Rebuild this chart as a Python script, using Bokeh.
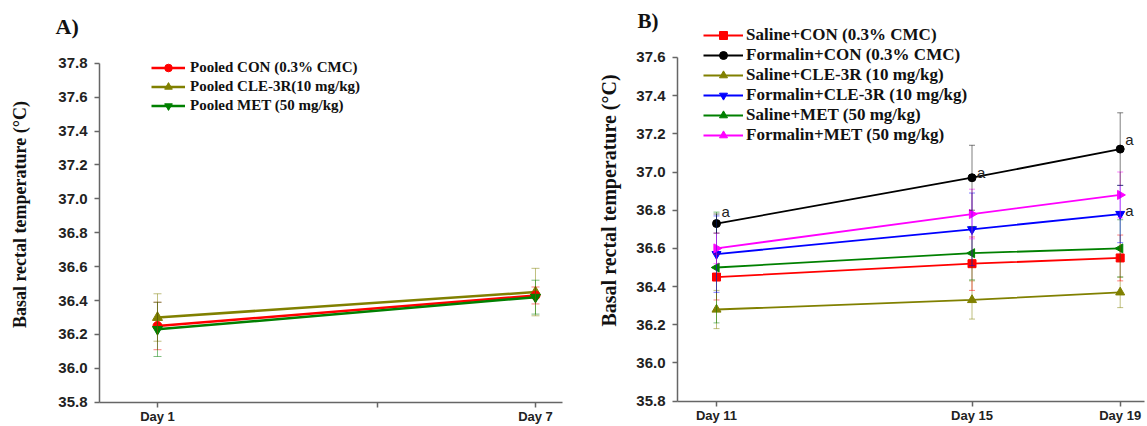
import math
from bokeh.plotting import figure
from bokeh.layouts import row
from bokeh.models import ColumnDataSource, Whisker, TeeHead, FixedTicker, Range1d
from bokeh.core.properties import value
from bokeh.embed import file_html
from bokeh.resources import INLINE

# ---------------- Panel A data ----------------
title_a = "A)"
x_a = [1, 7]
x_labels_a = ["Day 1", "Day 7"]
a_names = ["Pooled CON (0.3% CMC)", "Pooled CLE-3R(10 mg/kg)", "Pooled MET (50 mg/kg)"]
a_con = [36.25, 36.43]
a_con_err = [0.14, 0.05]
a_cle = [36.30, 36.45]
a_cle_err = [0.14, 0.14]
a_met = [36.23, 36.42]
a_met_err = [0.16, 0.10]

# ---------------- Panel B data ----------------
title_b = "B)"
x_b = [0, 1, 1.58]
x_labels_b = ["Day 11", "Day 15", "Day 19"]
b_names = ["Saline+CON (0.3% CMC)", "Formalin+CON (0.3% CMC)", "Saline+CLE-3R (10 mg/kg)",
           "Formalin+CLE-3R (10 mg/kg)", "Saline+MET (50 mg/kg)", "Formalin+MET (50 mg/kg)"]
b_sal_con = [36.45, 36.52, 36.55]
b_sal_con_err = [0.12, 0.14, 0.12]
b_for_con = [36.73, 36.97, 37.12]
b_for_con_err = [0.05, 0.17, 0.19]
b_sal_cle = [36.28, 36.33, 36.37]
b_sal_cle_err = [0.10, 0.10, 0.08]
b_for_cle = [36.57, 36.70, 36.78]
b_for_cle_err = [0.20, 0.19, 0.15]
b_sal_met = [36.50, 36.575, 36.60]
b_sal_met_err = [0.29, 0.14, 0.15]
b_for_met = [36.60, 36.78, 36.88]
b_for_met_err = [0.08, 0.13, 0.12]

# significance marks
ann_x = [0, 1, 1.58, 1.58]
ann_y = [36.795, 37.0, 37.17, 36.80]
ann_text = ["a", "a", "a", "a"]

YLABEL = "Basal rectal temperature (°C)"
SERIF = "Liberation Serif"
SANS = "Liberation Sans"
AXIS_COL = "#666666"


def style_axes(p, yaxis_at, ymax, xbounds):
    p.outline_line_color = None
    p.xgrid.visible = False
    p.ygrid.visible = False
    p.yaxis.fixed_location = yaxis_at
    p.xaxis.fixed_location = 35.8
    p.yaxis.bounds = (35.8, ymax)
    p.xaxis.bounds = xbounds
    for ax in (p.xaxis[0], p.yaxis[0]):
        ax.axis_line_color = AXIS_COL
        ax.axis_line_width = 1.5
        ax.major_tick_line_color = AXIS_COL
        ax.major_tick_line_width = 1.5
        ax.major_tick_out = 5
        ax.major_tick_in = 0
        ax.minor_tick_line_color = None
        ax.major_label_text_font = SANS
        ax.major_label_text_font_style = "bold"
        ax.major_label_text_color = "#222222"
    p.xaxis.major_label_text_font_size = "13px"
    p.yaxis.major_label_text_font_size = "15px"
    p.xaxis.major_label_standoff = 2
    p.yaxis.major_label_standoff = 7
    n = int(round((ymax - 35.8) / 0.2)) + 1
    ticks = [round(35.8 + 0.2 * i, 1) for i in range(n)]
    p.yaxis.ticker = FixedTicker(ticks=ticks)
    p.yaxis.major_label_overrides = {t: f"{t:.1f}" for t in ticks}


def add_ylabel(p, x, y, size):
    p.text(x=[x], y=[y], text=[YLABEL], angle=math.pi / 2, text_font=value(SERIF),
           text_font_style="bold", text_font_size=size, text_align="center",
           text_baseline="middle", text_color="#111111")


def style_legend(leg, loc, lh, gw, standoff, size):
    leg.location = loc
    leg.padding = 0
    leg.spacing = 0
    leg.margin = 0
    leg.label_height = lh
    leg.glyph_height = lh
    leg.glyph_width = gw
    leg.label_standoff = standoff
    leg.border_line_color = None
    leg.background_fill_alpha = 0
    leg.label_text_font = SERIF
    leg.label_text_font_style = "bold"
    leg.label_text_font_size = size
    leg.label_text_color = "#111111"


def add_series(p, xs, ys, errs, color, marker, name, size, lw, cap, angle=0.0):
    src = ColumnDataSource(dict(x=xs, y=ys,
                                upper=[v + e for v, e in zip(ys, errs)],
                                lower=[v - e for v, e in zip(ys, errs)]))
    w = Whisker(source=src, base="x", upper="upper", lower="lower",
                line_color=color, line_alpha=0.5, line_width=1,
                upper_head=TeeHead(size=cap, line_color=color, line_alpha=0.5, line_width=1),
                lower_head=TeeHead(size=cap, line_color=color, line_alpha=0.5, line_width=1))
    w.level = "glyph"
    p.add_layout(w)
    p.line("x", "y", source=src, line_color=color, line_width=lw, legend_label=name)
    p.scatter("x", "y", source=src, marker=marker, size=size, angle=angle,
              fill_color=color, line_color=color, legend_label=name)


def new_fig(w, xr, yr):
    p = figure(width=w, height=426, output_backend="svg", toolbar_location=None, title=None,
               x_range=Range1d(*xr), y_range=Range1d(*yr),
               min_border=0, min_border_left=0, min_border_right=0,
               min_border_top=0, min_border_bottom=0)
    return p


# ---------------- Panel A ----------------
pA = new_fig(575, (-1.492, 7.635), (35.657, 38.170))
style_axes(pA, 0.0794, 37.8, (0.0794, 7.4286))
mid_a = (x_a[0] + x_a[1]) / 2 + 0.5
pA.xaxis.ticker = FixedTicker(ticks=[x_a[0], mid_a, x_a[1]])
ov = {x_a[i]: x_labels_a[i] for i in range(len(x_a))}
ov[mid_a] = ""
pA.xaxis.major_label_overrides = ov

add_series(pA, x_a, a_cle, a_cle_err, "#808000", "triangle", a_names[1], 10, 2.5, 8)
add_series(pA, x_a, a_con, a_con_err, "#FF0000", "circle", a_names[0], 9, 2.5, 8)
add_series(pA, x_a, a_met, a_met_err, "#008000", "inverted_triangle", a_names[2], 10, 2.5, 8)

legA = pA.legend[0]
legA.items = [legA.items[1], legA.items[0], legA.items[2]]
style_legend(legA, (151, 311), 19, 34, 5, "15px")

add_ylabel(pA, -1.175, 36.907, "18px")
pA.text(x=[-0.619], y=[38.017], text=[title_a], text_font=value(SERIF), text_font_style="bold",
        text_font_size="22px", text_baseline="middle", text_align="left", text_color="#111111")

# ---------------- Panel B ----------------
pB = new_fig(572, (-0.5519, 1.6869), (35.6675, 37.898))
style_axes(pB, -0.1526, 37.6, (-0.1526, 1.6751))
pB.xaxis.ticker = FixedTicker(ticks=x_b)
pB.xaxis.major_label_overrides = {x_b[i]: x_labels_b[i] for i in range(len(x_b))}

add_series(pB, x_b, b_sal_cle, b_sal_cle_err, "#808000", "triangle", b_names[2], 9, 1.8, 6)
add_series(pB, x_b, b_sal_con, b_sal_con_err, "#FF0000", "square", b_names[0], 8, 1.8, 6)
add_series(pB, x_b, b_sal_met, b_sal_met_err, "#008000", "triangle", b_names[4], 9, 1.8, 6, angle=math.pi / 2)
add_series(pB, x_b, b_for_cle, b_for_cle_err, "#0000FF", "inverted_triangle", b_names[3], 9, 1.8, 6)
add_series(pB, x_b, b_for_met, b_for_met_err, "#FF00FF", "triangle", b_names[5], 9, 1.8, 6, angle=-math.pi / 2)
add_series(pB, x_b, b_for_con, b_for_con_err, "#000000", "circle", b_names[1], 8, 1.8, 6)

legB = pB.legend[0]
order = {n: i for i, n in enumerate(b_names)}
legB.items = sorted(legB.items, key=lambda it: order[it.label.value])
style_legend(legB, (128, 281), 20, 40, 3, "17px")

pB.text(x=ann_x, y=ann_y, text=ann_text, x_offset=5, text_font=value(SANS),
        text_font_size="15px", text_baseline="middle", text_align="left", text_color="#222222")

add_ylabel(pB, -0.4227, 36.851, "20px")
pB.text(x=[-0.309], y=[37.793], text=[title_b], text_font=value(SERIF), text_font_style="bold",
        text_font_size="21px", text_baseline="middle", text_align="left", text_color="#111111")

layout = row(pA, pB)
open("out.html", "w").write(file_html(layout, INLINE))
